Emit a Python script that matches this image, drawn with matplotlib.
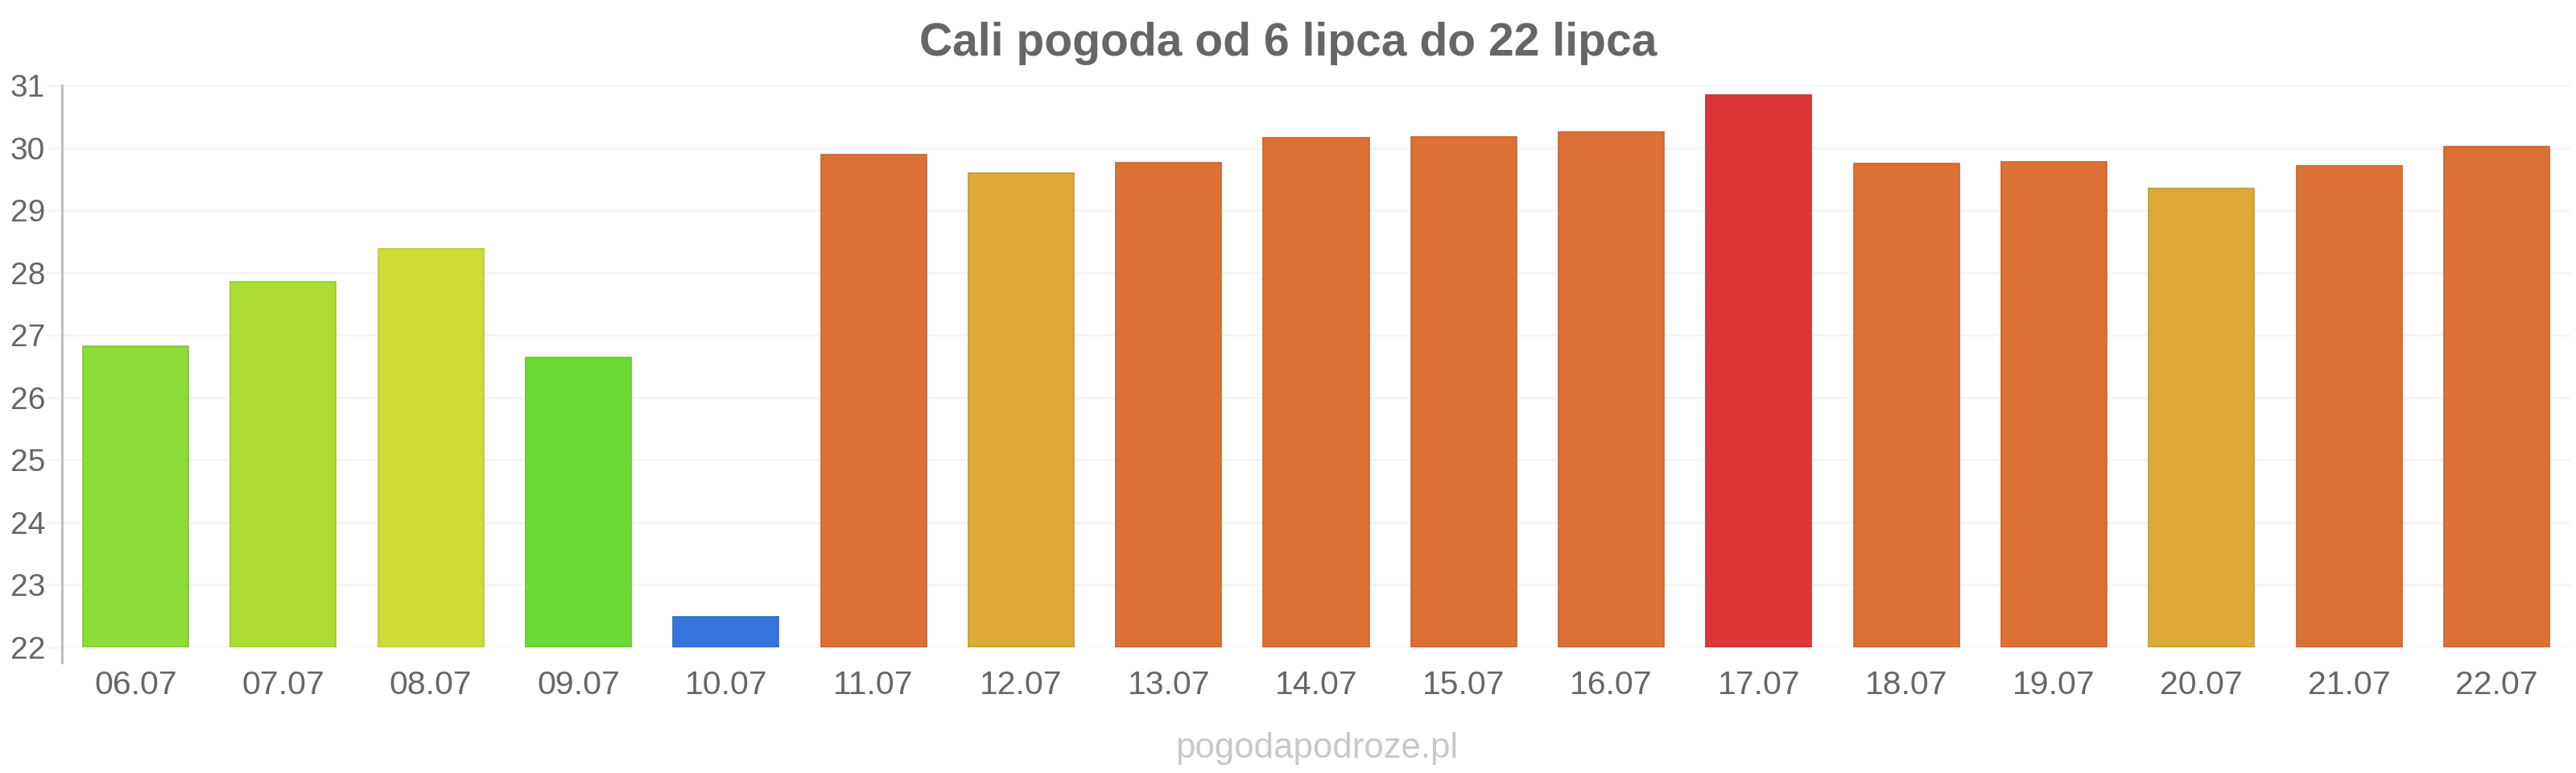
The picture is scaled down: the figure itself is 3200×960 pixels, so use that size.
import matplotlib
matplotlib.use("Agg")
import matplotlib.pyplot as plt
from matplotlib.colors import to_rgb

plt.rcParams['font.family'] = ['Liberation Sans', 'DejaVu Sans']

dates = ["06.07", "07.07", "08.07", "09.07", "10.07", "11.07", "12.07", "13.07", "14.07",
         "15.07", "16.07", "17.07", "18.07", "19.07", "20.07", "21.07", "22.07"]
temps = [26.82, 27.85, 28.38, 26.64, 22.49, 29.89, 29.60, 29.76, 30.16,
         30.18, 30.25, 30.85, 29.75, 29.78, 29.35, 29.71, 30.02]
colors = ["#8cdc37", "#addc35", "#cfdc35", "#6cdc35", "#3575db", "#dd7035", "#dcaa35",
          "#dd7035", "#dd7035", "#dd7035", "#dd7035", "#dc3636", "#dd7035", "#dd7035",
          "#dcaa35", "#dd7035", "#dd7035"]
yticks = list(range(22, 32))
title = "Cali pogoda od 6 lipca do 22 lipca"
watermark = "pogodapodroze.pl"

fig = plt.figure(figsize=(32, 9.6), dpi=100)
ax = fig.add_axes([77/3200, 1 - 804/960, (3193 - 77)/3200, (804 - 106)/960])

x = list(range(len(dates)))
edge = [tuple(c * 0.9 for c in to_rgb(col)) for col in colors]
ax.bar(x, [t - 22 for t in temps], bottom=22, width=0.715, color=colors,
       edgecolor=edge, linewidth=1.2, zorder=3)

ax.set_xlim(-0.5, len(dates) - 0.5)
ax.set_ylim(22, 31)
ax.set_yticks(yticks)
ax.set_yticklabels([str(v) for v in yticks])
ax.set_xticks(x)
ax.set_xticklabels(dates)

ax.grid(axis='y', color='#f5f5f5', linewidth=2, zorder=0)
ax.grid(axis='x', visible=False)
for s in ['top', 'right', 'bottom']:
    ax.spines[s].set_visible(False)
ax.spines['left'].set_color('#bbbbbb')
ax.spines['left'].set_linewidth(2)
ax.spines['left'].set_bounds(22 - 19/77.6, 31)

ax.tick_params(axis='y', length=14, width=2, color='#f5f5f5', labelsize=28,
               labelcolor='#666666', pad=1)
ax.tick_params(axis='x', length=0, labelsize=29.5, labelcolor='#666666', pad=20)

fig.text(0.5, 1 - 54/960, title, ha='center', va='center', fontsize=41,
         fontweight='bold', color='#666666')
fig.text(1636/3200, 1 - 929/960, watermark, ha='center', va='center', fontsize=31.5,
         color='#c8c8c8')

fig.savefig("out.png", dpi=100, facecolor='white')
